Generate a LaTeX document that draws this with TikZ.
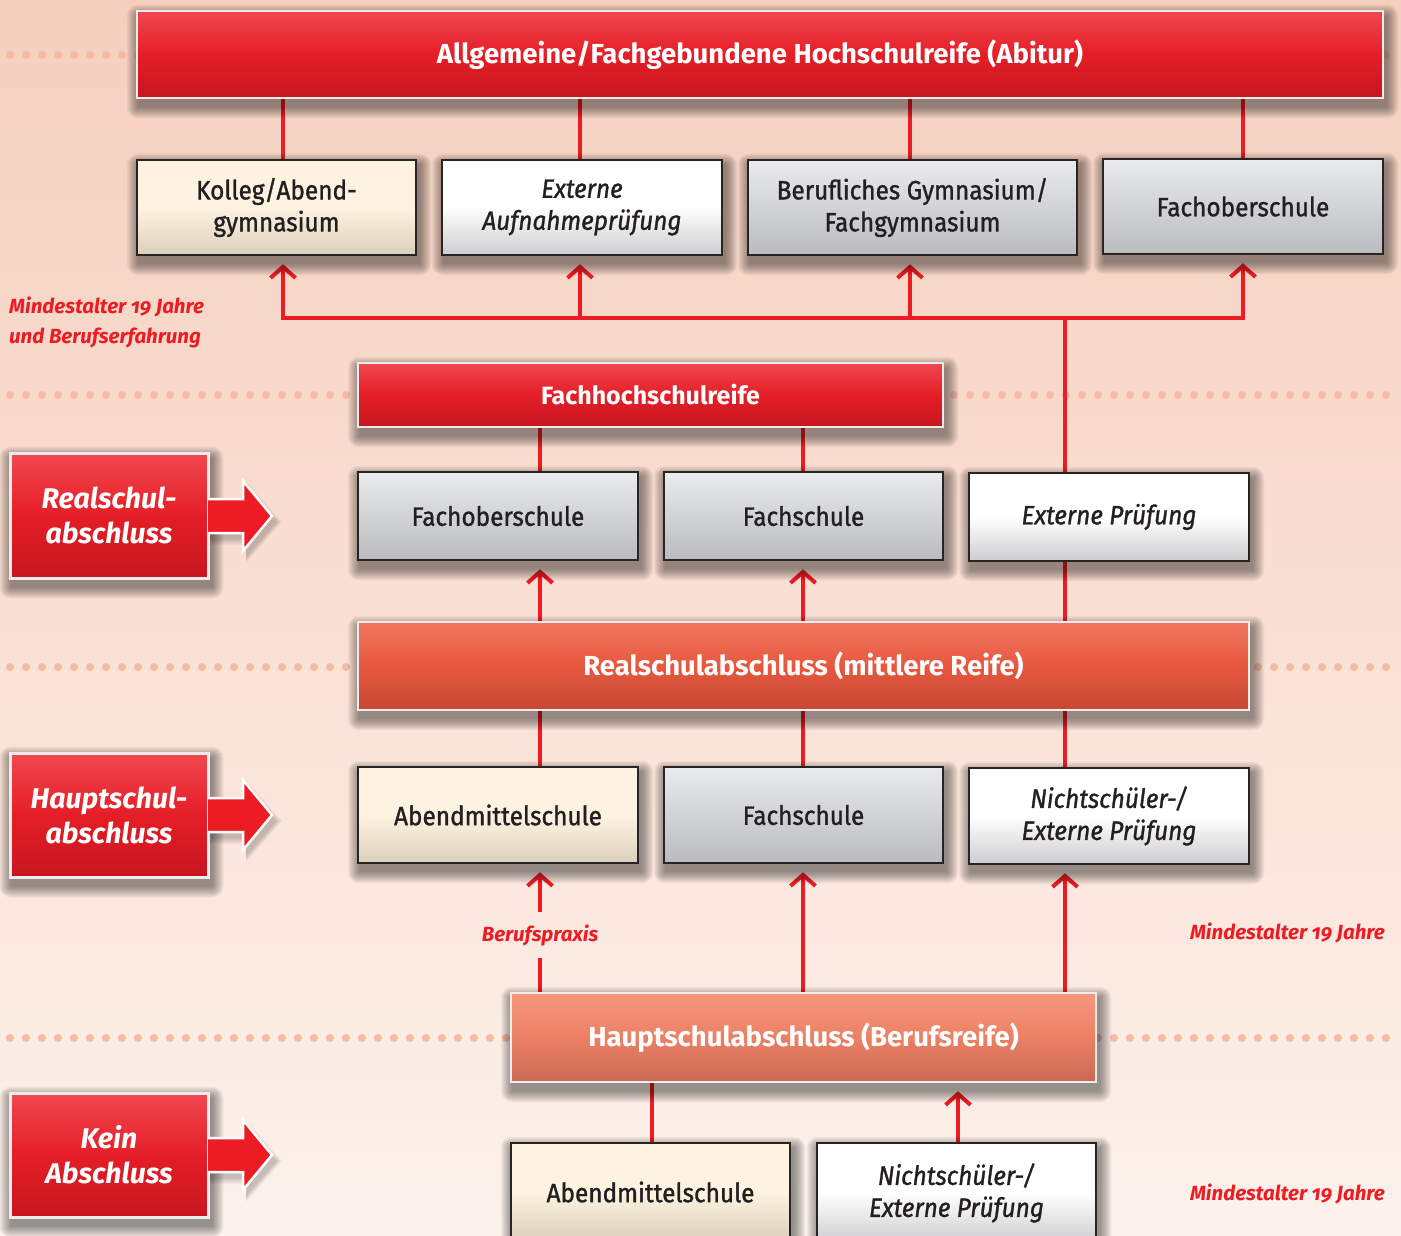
\documentclass[tikz,border=0pt]{standalone}
\usepackage{fontspec}
\setmainfont{Fira Sans}
\newfontfamily\boxfont{Fira Sans}[FakeStretch=0.92, FakeBold=1.2]
\newfontfamily\labfont{Fira Sans}[Numbers=OldStyle]
\usetikzlibrary{arrows.meta,calc}
\definecolor{bgtop}{RGB}{244,207,190}
\definecolor{bgmid}{RGB}{250,224,212}
\definecolor{bgbot}{RGB}{252,242,236}
\definecolor{dotc}{RGB}{247,185,160}
\definecolor{lred}{RGB}{237,28,36}
\definecolor{rtop}{RGB}{241,72,80}
\definecolor{rmid}{RGB}{229,30,38}
\definecolor{rbot}{RGB}{198,22,32}
\definecolor{otop}{RGB}{241,118,96}
\definecolor{omid}{RGB}{231,88,62}
\definecolor{obot}{RGB}{196,72,52}
\definecolor{stop}{RGB}{246,152,126}
\definecolor{smid}{RGB}{236,128,100}
\definecolor{sbot}{RGB}{200,106,84}
\definecolor{gtop}{RGB}{234,235,237}
\definecolor{gbot}{RGB}{186,187,191}
\definecolor{wtop}{RGB}{255,255,255}
\definecolor{wbot}{RGB}{205,205,207}
\definecolor{ctop}{RGB}{253,243,224}
\definecolor{cbot}{RGB}{220,208,188}
\definecolor{txt}{RGB}{35,31,32}
\definecolor{edge}{RGB}{40,36,37}
\definecolor{wedge}{RGB}{236,236,236}
\pgfdeclarelayer{bgzero}\pgfdeclarelayer{lines}\pgfdeclarelayer{shadowlayer}
\pgfsetlayers{bgzero,lines,shadowlayer,main}
\tikzset{
  redline/.style={line width=4pt, draw=lred},
  uparrow/.style={redline, -{Straight Barb[length=11pt,width=25pt,line width=4pt]}, shorten >=8pt},
  base/.style={inner sep=0pt, align=center},
  titlefont/.style={font=\bfseries\fontsize{27.5}{32}\selectfont},
  bigred/.style={base, draw=wedge, line width=2.5pt, top color=rtop, bottom color=rbot, middle color=rmid, text=white, titlefont},
  orbox/.style={base, draw=wedge, line width=2.5pt, top color=otop, bottom color=obot, middle color=omid, text=white, titlefont},
  sabox/.style={base, draw=wedge, line width=2.5pt, top color=stop, bottom color=sbot, middle color=smid, text=white, titlefont},
  sidebox/.style={base, draw=wedge, line width=3pt, top color=rtop, bottom color=rbot, middle color=rmid, text=white, font=\bfseries\itshape\fontsize{28.5}{35}\selectfont},
  boxtext/.style={font=\boxfont\fontsize{26.5}{32}\selectfont},
  greybox/.style={base, draw=edge, line width=2.5pt, top color=gtop, bottom color=gbot, text=txt, boxtext},
  whitebox/.style={base, draw=edge, line width=2.5pt, top color=wtop, bottom color=wbot, middle color=wtop, text=txt, font=\boxfont\itshape\fontsize{26.5}{32}\selectfont},
  creambox/.style={base, draw=edge, line width=2.5pt, top color=ctop, bottom color=cbot, middle color=ctop, text=txt, boxtext},
  redlabel/.style={inner sep=0pt, text=lred, font=\labfont\bfseries\itshape\fontsize{20.5}{30}\selectfont},
  blockarrow/.style={fill=lred, draw=white, line width=2.5pt, line join=miter},
}
\newcommand\softshadow[1]{%
  \begin{pgfonlayer}{shadowlayer}
    \foreach \i in {0,...,11} {
      \fill[black, opacity=0.04, rounded corners=\i pt]
        ($(#1.north west)+(2-\i,6-\i)$) rectangle ($(#1.south east)+(3+\i,8+\i)$);
    }
  \end{pgfonlayer}}
\newcommand\bx[7]{%
  \node[#6, minimum width={#4-#2}, minimum height={#5-#3}] (#1) at ({(#2+#4)/2},{(#3+#5)/2}) {#7};
  \softshadow{#1}}
\newcommand\sidearrow[2]{% name, center y
  \draw[blockarrow] (208,#2-17) -- (243,#2-17) -- (243,#2-35) -- (272,#2) -- (243,#2+35) -- (243,#2+17) -- (208,#2+17);
  \begin{pgfonlayer}{shadowlayer}
    \foreach \i in {0,...,6} {
      \fill[black, opacity=0.03] (208,#2-17+6-\i) -- (246,#2-17+6-\i) -- (246,#2-35+6-\i) -- (276+\i,#2+6) -- (246,#2+35+6+\i) -- (246,#2+17+6+\i) -- (208,#2+17+6+\i) -- cycle;
    }
  \end{pgfonlayer}}
\begin{document}
\begin{tikzpicture}[x=1pt,y=-1pt]
\clip (0,0) rectangle (1401,1236);
\begin{pgfonlayer}{bgzero}
  \shade[top color=bgtop, bottom color=bgbot, middle color=bgmid] (0,0) rectangle (1401,1236);
  \foreach \yy in {55,395,667,1038} {
    \foreach \xx in {10,26,...,1400} { \fill[dotc] (\xx,\yy) circle (4); }
  }
\end{pgfonlayer}

% column coordinates
\foreach \cx in {283,580,910,1243,540,803,1065,652,958} { \coordinate (c\cx) at (\cx,0); }

% boxes
\bx{abitur}{137}{11}{1383}{98}{bigred}{Allgemeine/Fachgebundene Hochschulreife (Abitur)}
\bx{kolleg}{137}{160}{416}{255}{creambox}{Kolleg/Abend-\\gymnasium}
\bx{extauf}{442}{160}{722}{255}{whitebox}{Externe\\Aufnahmeprüfung}
\bx{bergym}{748}{160}{1077}{255}{greybox}{Berufliches Gymnasium/\\Fachgymnasium}
\bx{fosA}{1103}{159}{1383}{254}{greybox}{Fachoberschule}

\bx{fhr}{358}{363}{943}{427}{bigred, font=\bfseries\fontsize{25}{30}\selectfont}{Fachhochschulreife}
\bx{fosB}{358}{472}{638}{560}{greybox}{Fachoberschule}
\bx{fsB}{664}{472}{943}{560}{greybox}{Fachschule}
\bx{extB}{969}{473}{1249}{561}{whitebox}{Externe Prüfung}

\bx{rs}{358}{622}{1249}{710}{orbox}{Realschulabschluss (mittlere Reife)}
\bx{amsC}{358}{767}{638}{863}{creambox}{Abendmittelschule}
\bx{fsC}{664}{767}{943}{863}{greybox}{Fachschule}
\bx{nepC}{969}{768}{1249}{864}{whitebox}{Nichtschüler-/\\Externe Prüfung}

\bx{hs}{511}{993}{1096}{1082}{sabox}{Hauptschulabschluss (Berufsreife)}
\bx{amsD}{511}{1143}{790}{1241}{creambox}{Abendmittelschule}
\bx{nepD}{817}{1143}{1096}{1243}{whitebox}{Nichtschüler-/\\Externe Prüfung}

% side labels
\bx{lrs}{10}{453}{208}{578}{sidebox}{Realschul-\\abschluss}
\bx{lhs}{10}{753}{208}{877}{sidebox}{Hauptschul-\\abschluss}
\bx{lkein}{10}{1093}{208}{1217}{sidebox}{Kein\\Abschluss}
\sidearrow{arA}{516}
\sidearrow{arB}{815}
\sidearrow{arC}{1155}

% red annotations
\node[redlabel, anchor=north west, align=left] (mind1) at (9,297) {Mindestalter 19 Jahre\\und Berufserfahrung};
\node[redlabel, minimum height=45pt] (bp) at (540,935) {Berufspraxis};
\node[redlabel, anchor=east] (mind2) at (1385,933) {Mindestalter 19 Jahre};
\node[redlabel, anchor=east] (mind3) at (1385,1194) {Mindestalter 19 Jahre};

\begin{pgfonlayer}{lines}
  \foreach \n/\c in {kolleg/c283, extauf/c580, bergym/c910, fosA/c1243} {
    \draw[redline] (abitur.south -| \c) -- (\n.north -| \c);
  }
  \coordinate (bus1) at (283,318);
  \coordinate (bus2) at (580,318);
  \coordinate (bus3) at (910,318);
  \coordinate (bus4) at (1243,318);
  \coordinate (busj) at (1065,318);
  \draw[uparrow] (bus4) -- (bus1) -- (kolleg.south -| bus1);
  \draw[uparrow] (bus1) -- (bus4) -- (fosA.south -| bus4);
  \draw[uparrow] (bus2) -- (extauf.south -| bus2);
  \draw[uparrow] (bus3) -- (bergym.south -| bus3);
  \draw[redline] (extB.north -| busj) -- (busj);
  \draw[redline] (fhr.south -| c540) -- (fosB.north -| c540);
  \draw[redline] (fhr.south -| c803) -- (fsB.north -| c803);
  \draw[uparrow] (rs.north -| c540) -- (fosB.south -| c540);
  \draw[uparrow] (rs.north -| c803) -- (fsB.south -| c803);
  \draw[redline] (rs.north -| c1065) -- (extB.south -| c1065);
  \draw[redline] (rs.south -| c540) -- (amsC.north -| c540);
  \draw[redline] (rs.south -| c803) -- (fsC.north -| c803);
  \draw[redline] (rs.south -| c1065) -- (nepC.north -| c1065);
  \draw[redline] (hs.north -| c540) -- (bp.south);
  \draw[uparrow] (bp.north) -- (amsC.south -| c540);
  \draw[uparrow] (hs.north -| c803) -- (fsC.south -| c803);
  \draw[uparrow] (hs.north -| c1065) -- (nepC.south -| c1065);
  \draw[redline] (hs.south -| c652) -- (amsD.north -| c652);
  \draw[uparrow] (nepD.north -| c958) -- (hs.south -| c958);
\end{pgfonlayer}
\end{tikzpicture}
\end{document}
